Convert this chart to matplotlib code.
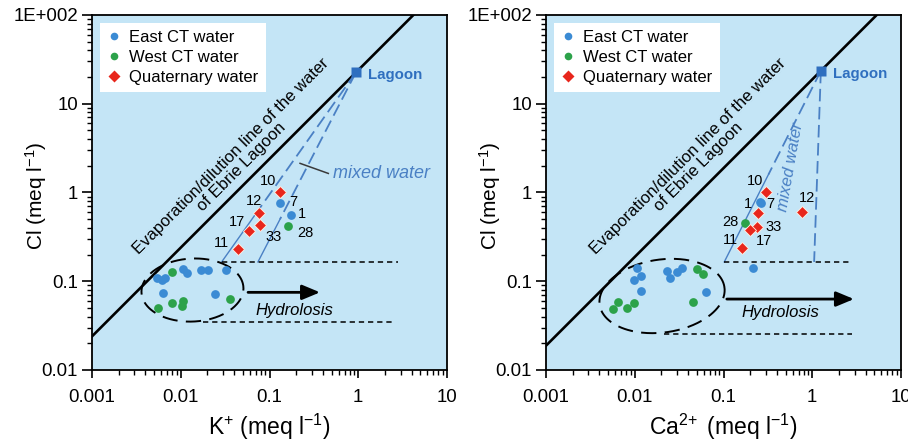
import numpy as np
import matplotlib
matplotlib.use("Agg")
import matplotlib.pyplot as plt
from matplotlib.lines import Line2D
from matplotlib.ticker import FixedLocator, FixedFormatter, LogLocator, NullFormatter

plt.rcParams['font.family'] = ['Liberation Sans', 'DejaVu Sans']
plt.rcParams['mathtext.fontset'] = 'custom'
plt.rcParams['mathtext.rm'] = 'Liberation Sans'
plt.rcParams['mathtext.it'] = 'Liberation Sans:italic'
plt.rcParams['lines.scale_dashes'] = False

# ---------------- K+ vs Cl ----------------
east_k = [0.00536, 0.00609, 0.00665, 0.00627, 0.0107, 0.01186, 0.0169, 0.0204, 0.0243, 0.0324, 0.131, 0.175]
east_k_cl = [0.1096, 0.103, 0.108, 0.0731, 0.1375, 0.1248, 0.134, 0.134, 0.0718, 0.134, 0.767, 0.557]
east_k_id = ['', '', '', '', '', '', '', '', '', '', '7', '1']

west_k = [0.00791, 0.00558, 0.00791, 0.0107, 0.01026, 0.0359, 0.160]
west_k_cl = [0.128, 0.0503, 0.0573, 0.0599, 0.0526, 0.0626, 0.423]
west_k_id = ['', '', '', '', '', '', '28']

quat_k = [0.131, 0.0767, 0.0782, 0.0591, 0.0439]
quat_k_cl = [1.02, 0.592, 0.430, 0.368, 0.229]
quat_k_id = ['10', '12', '33', '17', '11']

lagoon_k = (0.94, 22.5)
mix_ends_k = [(0.0289, 0.165), (0.0741, 0.165)]
hydro_top_k = ([0.0289, 2.8], [0.165, 0.165])
hydro_bot_k = ([0.0178, 2.47], [0.0344, 0.0344])
arrow_k = ((0.0573, 0.075), (0.371, 0.075))

# ---------------- Ca2+ vs Cl ----------------
east_ca = [0.01051, 0.01174, 0.00982, 0.01174, 0.0229, 0.0249, 0.0297, 0.0338, 0.0635, 0.217, 0.258, 0.265]
east_ca_cl = [0.140, 0.1146, 0.103, 0.0776, 0.1315, 0.108, 0.128, 0.140, 0.0762, 0.140, 0.775, 0.767]
east_ca_id = ['', '', '', '', '', '', '', '', '', '', '1', '7']

west_ca = [0.0499, 0.0584, 0.00653, 0.00573, 0.00811, 0.00989, 0.0457, 0.175]
west_ca_cl = [0.136, 0.120, 0.0589, 0.0483, 0.0496, 0.0565, 0.0589, 0.457]
west_ca_id = ['', '', '', '', '', '', '', '28']

quat_ca = [0.301, 0.773, 0.247, 0.237, 0.199, 0.160]
quat_ca_cl = [1.02, 0.608, 0.583, 0.412, 0.378, 0.235]
quat_ca_id = ['10', '12', '', '33', '17', '11']

lagoon_ca = (1.25, 23.5)
mix_ends_ca = [(0.102, 0.165), (1.05, 0.165)]
hydro_top_ca = ([0.102, 2.8], [0.165, 0.165])
hydro_bot_ca = ([0.0214, 2.8], [0.0252, 0.0252])
arrow_ca = ((0.109, 0.063), (2.95, 0.063))

# label offsets (points) for the numbered samples
offsets_k = {'10': (-8.4, 7.8), '7': (9.6, 0.7), '12': (-3.6, 8.2), '1': (7.8, 0.5),
             '17': (-9, 6.5), '33': (9.5, -8.3), '28': (12.6, -5.3), '11': (-12, 4.3)}
offsets_ca = {'10': (-7.6, 7.6), '1': (-8.8, -1.1), '7': (6.6, -1.1), '12': (3.7, 9.6),
              '28': (-10.5, 0.2), '33': (12, 0), '17': (9.8, -8.0), '11': (-8.3, 5.8)}

BG = '#c4e5f6'
C_EAST = '#3b8bd4'
C_WEST = '#2ca24a'
C_QUAT = '#e8261c'
C_MIX = '#4a80c4'
C_LAG = '#2f6fbf'

fig = plt.figure(figsize=(9.08, 4.41), dpi=100)
W, H = 908, 441
ax_k = fig.add_axes([92 / W, 71 / H, 355 / W, 355 / H])
ax_ca = fig.add_axes([546 / W, 71 / H, 355 / W, 355 / H])


def split_point(p0, p1, yval):
    """Point on the log-log segment p0->p1 where Cl equals yval."""
    lx0, ly0 = np.log10(p0)
    lx1, ly1 = np.log10(p1)
    t = (np.log10(yval) - ly0) / (ly1 - ly0)
    return 10 ** (lx0 + t * (lx1 - lx0)), yval


def log_ellipse(ax, cx, cy, a, b, angle):
    t = np.linspace(0, 2 * np.pi, 300)
    th = np.deg2rad(angle)
    lx = np.log10(cx) + a * np.cos(th) * np.cos(t) - b * np.sin(th) * np.sin(t)
    ly = np.log10(cy) + a * np.sin(th) * np.cos(t) + b * np.cos(th) * np.sin(t)
    ax.plot(10 ** lx, 10 ** ly, color='black', lw=1.4, dashes=(11, 6), zorder=3)


def panel(ax, east, east_cl, east_id, west, west_cl, west_id, quat, quat_cl, quat_id,
          lagoon, mix_ends, solid_from, hydro_top, hydro_bot, arrow, ellipse,
          offsets, xlabel, evap_xy, hydro_xy):
    ax.set_facecolor(BG)
    ax.set_xscale('log')
    ax.set_yscale('log')
    ax.set_xlim(0.001, 10)
    ax.set_ylim(0.01, 100)

    # evaporation / dilution line through the lagoon
    ratio = lagoon[1] / lagoon[0]
    xs = np.array([0.001, 100 / ratio])
    ax.plot(xs, ratio * xs, color='black', lw=1.9, zorder=2)

    # mixing lines from the lagoon
    for end, ys in zip(mix_ends, solid_from):
        if ys is None:
            ax.plot([lagoon[0], end[0]], [lagoon[1], end[1]], color=C_MIX, lw=1.3,
                    dashes=(9, 4), zorder=2)
        else:
            mid = split_point(lagoon, end, ys)
            ax.plot([lagoon[0], mid[0]], [lagoon[1], mid[1]], color=C_MIX, lw=1.3,
                    dashes=(9, 4), zorder=2)
            ax.plot([mid[0], end[0]], [mid[1], end[1]], color=C_MIX, lw=1.0, zorder=2)

    # hydrolysis band
    ax.plot(*hydro_top, color='black', lw=1.1, dashes=(3.8, 2.8), zorder=2)
    ax.plot(*hydro_bot, color='black', lw=1.1, dashes=(3.8, 2.8), zorder=2)
    ax.annotate('', xy=arrow[1], xytext=arrow[0],
                arrowprops=dict(arrowstyle='-|>,head_length=0.6,head_width=0.25',
                                lw=2, color='black', mutation_scale=18,
                                shrinkA=0, shrinkB=0), zorder=3)
    ax.text(hydro_xy[0], hydro_xy[1], 'Hydrolosis', style='italic', fontsize=12,
            ha='left', va='center')
    log_ellipse(ax, *ellipse)

    ax.plot(east, east_cl, 'o', color=C_EAST, ms=6.3, mec='none', zorder=4)
    ax.plot(west, west_cl, 'o', color=C_WEST, ms=6.3, mec='none', zorder=4)
    ax.plot(quat, quat_cl, 'D', color=C_QUAT, ms=6.6, mec='#fff3e6', mew=0.6, zorder=5)
    ax.plot([lagoon[0]], [lagoon[1]], 's', color=C_LAG, ms=7.5, mec='none', zorder=5)
    ax.annotate('Lagoon', lagoon, xytext=(8.5, -2), textcoords='offset points',
                ha='left', va='center', fontsize=10.8, fontweight='bold', color=C_LAG)

    for xs_, ys_, ids in ((east, east_cl, east_id), (west, west_cl, west_id),
                          (quat, quat_cl, quat_id)):
        for x, y, s in zip(xs_, ys_, ids):
            if s:
                ax.annotate(s, (x, y), xytext=offsets[s], textcoords='offset points',
                            ha='center', va='center', fontsize=10.5)

    ax.text(evap_xy[0], evap_xy[1],
            'Evaporation/dilution line of the water\nof Ebrie Lagoon',
            rotation=45, rotation_mode='anchor', ha='center', va='center',
            multialignment='center', fontsize=12, linespacing=1.0, zorder=3)

    handles = [Line2D([], [], ls='none', marker='o', color=C_EAST, ms=5.5, mec='none'),
               Line2D([], [], ls='none', marker='o', color=C_WEST, ms=5.5, mec='none'),
               Line2D([], [], ls='none', marker='D', color=C_QUAT, ms=6, mec='none')]
    leg = ax.legend(handles, ['East CT water', 'West CT water', 'Quaternary water'],
                    loc='upper left', bbox_to_anchor=(0.0225, 0.978), borderaxespad=0,
                    frameon=True, facecolor='white', edgecolor='none', framealpha=1,
                    fancybox=False, fontsize=12, handlelength=0.8, handletextpad=0.5,
                    labelspacing=0.28, borderpad=0.45)
    leg.set_zorder(6)

    ax.xaxis.set_major_locator(FixedLocator([0.001, 0.01, 0.1, 1, 10]))
    ax.xaxis.set_major_formatter(FixedFormatter(['0.001', '0.01', '0.1', '1', '10']))
    ax.yaxis.set_major_locator(FixedLocator([0.01, 0.1, 1, 10, 100]))
    ax.yaxis.set_major_formatter(FixedFormatter(['0.01', '0.1', '1', '10', '1E+002']))
    ax.xaxis.set_minor_locator(LogLocator(base=10, subs=np.arange(2, 10), numticks=20))
    ax.yaxis.set_minor_locator(LogLocator(base=10, subs=np.arange(2, 10), numticks=20))
    ax.xaxis.set_minor_formatter(NullFormatter())
    ax.yaxis.set_minor_formatter(NullFormatter())
    ax.tick_params(axis='x', which='major', direction='out', length=6, width=1.2,
                   labelsize=13.4, pad=8)
    ax.tick_params(axis='x', which='minor', direction='out', length=3.5, width=1.0)
    ax.tick_params(axis='y', which='major', direction='out', length=7, width=1.2,
                   labelsize=13.4, pad=3)
    ax.tick_params(axis='y', which='minor', direction='out', length=3.5, width=1.0)
    for sp in ax.spines.values():
        sp.set_linewidth(1.3)

    ax.set_xlabel(xlabel, fontsize=16.5, labelpad=4)
    ax.set_ylabel('Cl (meq l$^{-1}$)', fontsize=15)
    ax.yaxis.set_label_coords(-0.12, 0.49)


panel(ax_k, east_k, east_k_cl, east_k_id, west_k, west_k_cl, west_k_id,
      quat_k, quat_k_cl, quat_k_id, lagoon_k, mix_ends_k, [0.6, 0.5],
      hydro_top_k, hydro_bot_k, arrow_k, (0.01355, 0.0796, 0.575, 0.355, 3),
      offsets_k, 'K$^{+}$ (meq l$^{-1}$)', (0.042, 2.21), (0.0687, 0.0466))

panel(ax_ca, east_ca, east_ca_cl, east_ca_id, west_ca, west_ca_cl, west_ca_id,
      quat_ca, quat_ca_cl, quat_ca_id, lagoon_ca, mix_ends_ca, [1.6, None],
      hydro_top_ca, hydro_bot_ca, arrow_ca, (0.0203, 0.0682, 0.71, 0.411, 8),
      offsets_ca, r'Ca$^{2\!+}$ (meq l$^{-1}$)', (0.0459, 2.25), (0.161, 0.0443))

# "mixed water" annotations
ax_k.plot([0.221, 0.46], [2.13, 1.64], color='#3a3a3a', lw=1.1, zorder=3)
ax_k.text(0.52, 1.64, 'mixed water', style='italic', fontsize=13, color=C_MIX,
          ha='left', va='center')
ax_ca.text(0.571, 1.95, 'mixed water', style='italic', fontsize=12, color=C_MIX,
           ha='center', va='center', rotation=80, rotation_mode='anchor')

fig.savefig('out.png', dpi=100)
